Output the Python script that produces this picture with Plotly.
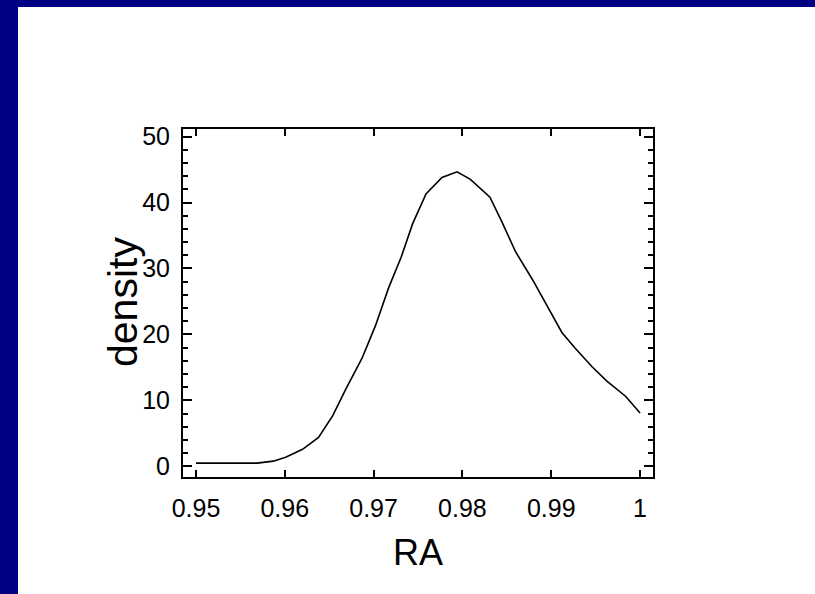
import plotly.graph_objects as go

# Data
ra = [0.9500, 0.9569, 0.9587, 0.9601, 0.9620, 0.9638, 0.9654, 0.9669, 0.9687,
      0.9702, 0.9717, 0.9731, 0.9744, 0.9759, 0.9777, 0.9794, 0.9809, 0.9831,
      0.9845, 0.9860, 0.9879, 0.9896, 0.9912, 0.9927, 0.9946, 0.9963, 0.9984, 1.0000]
density = [0.5, 0.5, 0.8, 1.4, 2.6, 4.4, 7.7, 11.8, 16.4,
           21.3, 27.1, 31.7, 36.8, 41.3, 43.8, 44.65, 43.5, 40.8,
           36.9, 32.5, 28.3, 24.2, 20.3, 17.9, 15.1, 12.9, 10.6, 8.1]

x_tickvals = [0.95, 0.96, 0.97, 0.98, 0.99, 1.0]
x_ticktext = ["0.95", "0.96", "0.97", "0.98", "0.99", "1"]
y_tickvals = [0, 10, 20, 30, 40, 50]
x_title = "RA"
y_title = "density"

W, H = 815, 594
ML, MR, MT, MB = 183, 162, 129, 117
PW, PH = W - ML - MR, H - MT - MB

fig = go.Figure()
fig.add_trace(go.Scatter(x=ra, y=density, mode="lines",
                         line=dict(color="black", width=1.6),
                         showlegend=False, hoverinfo="skip"))

FONT = "Liberation Sans, Arial, sans-serif"


def px_to_paper_x(px):
    return (px - ML) / PW


def px_to_paper_y(py):
    return 1 - (py - MT) / PH


fig.update_layout(
    width=W, height=H,
    margin=dict(l=ML, r=MR, t=MT, b=MB, pad=0),
    paper_bgcolor="white", plot_bgcolor="white",
    font=dict(family=FONT, color="black"),
    xaxis=dict(
        range=[0.94854, 1.00146], tickvals=x_tickvals, ticktext=x_ticktext,
        ticks="inside", ticklen=7, tickwidth=2, tickcolor="black",
        showline=True, linewidth=2, linecolor="black", mirror="allticks",
        showgrid=False, zeroline=False,
        tickfont=dict(size=25, family=FONT, color="black"),
        ticklabelstandoff=8,
        title=dict(text=x_title, font=dict(size=36, family=FONT, color="black"), standoff=19),
    ),
    yaxis=dict(
        range=[-1.6, 51.14], tickvals=y_tickvals,
        ticks="inside", ticklen=9, tickwidth=2, tickcolor="black",
        minor=dict(dtick=2, tick0=0, ticks="inside", ticklen=5, tickwidth=2, tickcolor="black"),
        showline=True, linewidth=2, linecolor="black", mirror="allticks",
        showgrid=False, zeroline=False,
        tickfont=dict(size=25, family=FONT, color="black"),
        ticklabelstandoff=6,
    ),
)

# y-axis title placed as rotated text
fig.add_annotation(text=y_title, xref="paper", yref="paper",
                   x=px_to_paper_x(123), y=px_to_paper_y(302),
                   xanchor="center", yanchor="middle", textangle=-90,
                   showarrow=False, font=dict(size=41, family=FONT, color="black"))

# Navy presentation frame (left and top bars)
fig.add_shape(type="rect", xref="paper", yref="paper",
              x0=px_to_paper_x(0), x1=px_to_paper_x(18),
              y0=px_to_paper_y(H), y1=px_to_paper_y(0),
              fillcolor="#000084", line=dict(width=0), layer="below")
fig.add_shape(type="rect", xref="paper", yref="paper",
              x0=px_to_paper_x(0), x1=px_to_paper_x(W),
              y0=px_to_paper_y(7), y1=px_to_paper_y(0),
              fillcolor="#000084", line=dict(width=0), layer="below")

fig.write_html("out.html", config={"displayModeBar": False},
               post_script="document.body.style.margin='0';document.body.style.padding='0';")
